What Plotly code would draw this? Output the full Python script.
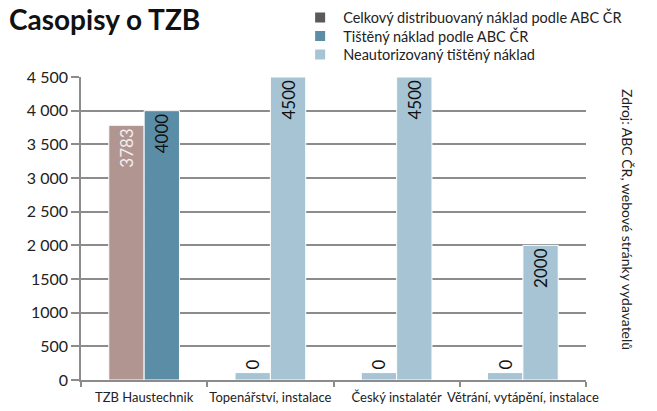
import plotly.graph_objects as go

# ---- data ----
categories = ["TZB Haustechnik", "Topenářství, instalace", "Český instalatér", "Větrání, vytápění, instalace"]
left_values = [3783, 110, 110, 110]          # first bar of each group (stubs drawn at ~110, labelled 0)
left_labels = ["3783", "0", "0", "0"]
right_values = [4000, 4500, 4500, 2000]      # second bar of each group
right_labels = ["4000", "4500", "4500", "2000"]

legend_names = ["Celkový distribuovaný náklad podle ABC ČR",
                "Tištěný náklad podle ABC ČR",
                "Neautorizovaný tištěný náklad"]
legend_colors = ["#5d5859", "#5b8ea6", "#a7c4d4"]

left_colors = ["#b09591", "#a7c4d4", "#a7c4d4", "#a7c4d4"]
right_colors = ["#5b8ea6", "#a7c4d4", "#a7c4d4", "#a7c4d4"]

y_tickvals = [0, 500, 1000, 1500, 2000, 2500, 3000, 3500, 4000, 4500]
y_ticktext = ["0", "500", "1000", "1500", "2 000", "2 500", "3 000", "3 500", "4 000", "4 500"]

FONT = "Lato"

fig = go.Figure()

fig.add_trace(go.Bar(
    x=categories, y=left_values, text=left_labels,
    textposition=["inside", "outside", "outside", "outside"],
    insidetextanchor="end", textangle=-90,
    textfont=dict(family=FONT, size=17, color=["#f3eeec", "#111111", "#111111", "#111111"]),
    marker=dict(color=left_colors, line=dict(color="white", width=1)),
    showlegend=False, cliponaxis=False,
))
fig.add_trace(go.Bar(
    x=categories, y=right_values, text=right_labels,
    textposition="inside", insidetextanchor="end", textangle=-90,
    textfont=dict(family=FONT, size=17, color="#111111"),
    marker=dict(color=right_colors, line=dict(color="white", width=1)),
    showlegend=False,
))

legend_keys = ["legend", "legend2", "legend3"]
for name, col, lk in zip(legend_names, legend_colors, legend_keys):
    fig.add_trace(go.Scatter(
        x=[None], y=[None], mode="markers", name=name, legend=lk,
        marker=dict(symbol="square", size=10, color=col),
    ))

legend_y = [1.196, 1.135, 1.074]
legend_common = dict(x=0.428, xanchor="left", yanchor="middle", itemwidth=36,
                     font=dict(family=FONT, size=14.5, color="#222222"),
                     bgcolor="rgba(0,0,0,0)")

fig.update_layout(
    width=657, height=411,
    margin=dict(l=81, r=71, t=77, b=31, autoexpand=False),
    paper_bgcolor="white", plot_bgcolor="white",
    barmode="group", bargap=0.44, bargroupgap=0,
    font=dict(family=FONT, color="#222222"),
    legend=dict(y=legend_y[0], **legend_common),
    legend2=dict(y=legend_y[1], **legend_common),
    legend3=dict(y=legend_y[2], **legend_common),
    xaxis=dict(
        showline=True, linecolor="#8c8c8c", linewidth=1.5,
        ticks="outside", tickson="boundaries", ticklen=5, tickcolor="#8c8c8c", tickwidth=1.5,
        tickfont=dict(family=FONT, size=13, color="#222222"),
        tickangle=0, automargin=False, ticklabelstandoff=5,
        showgrid=False,
    ),
    yaxis=dict(
        range=[0, 4500], tickvals=y_tickvals, ticktext=y_ticktext,
        showline=True, linecolor="#8c8c8c", linewidth=1.5,
        ticks="outside", ticklen=8, tickcolor="#8c8c8c", tickwidth=1.5,
        showgrid=True, gridcolor="#8c8c8c", gridwidth=1.5,
        zeroline=False, automargin=False,
        tickfont=dict(family=FONT, size=16, color="#222222"),
    ),
    annotations=[
        dict(text="<b>Casopisy o TZB</b>",
             x=-0.1465, y=1.254, xref="paper", yref="paper",
             xanchor="left", yanchor="top", showarrow=False,
             font=dict(family=FONT, size=28, color="#111111")),
        dict(text="Zdroj: ABC ČR, webové stránky vydavatelů",
             x=1.083, y=0.528, xref="paper", yref="paper",
             xanchor="center", yanchor="middle",
             textangle=90, showarrow=False,
             font=dict(family=FONT, size=14, color="#222222")),
    ],
)

fig.write_html("out.html", config={"displayModeBar": False},
               post_script="document.body.style.margin='0';")
